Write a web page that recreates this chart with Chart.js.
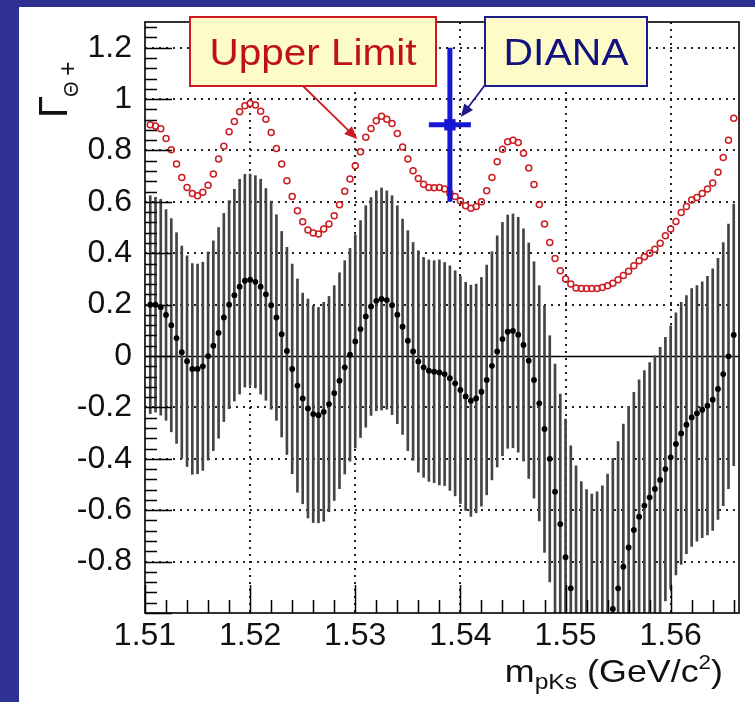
<!DOCTYPE html>
<html>
<head>
<meta charset="utf-8">
<script src="https://cdn.jsdelivr.net/npm/chart.js@4.4.1/dist/chart.umd.min.js"></script>
<style>
html, body { margin: 0; padding: 0; width: 755px; height: 702px; overflow: hidden; background: #2f3192; }
#wrap { position: absolute; left: 19px; top: 7px; width: 736px; height: 695px; background: #fff; }
</style>
</head>
<body>
<div id="wrap"><canvas id="c" width="736" height="695"></canvas></div>
<script>
// Γ(Θ+) scan vs m(pKs): central values, errors, upper limit, DIANA point

const mass = [
    1.5105, 1.5110, 1.5115, 1.5120, 1.5125, 1.5130, 1.5135, 1.5140, 1.5145, 1.5150,
    1.5155, 1.5160, 1.5165, 1.5170, 1.5175, 1.5180, 1.5185, 1.5190, 1.5195, 1.5200,
    1.5205, 1.5210, 1.5215, 1.5220, 1.5225, 1.5230, 1.5235, 1.5240, 1.5245, 1.5250,
    1.5255, 1.5260, 1.5265, 1.5270, 1.5275, 1.5280, 1.5285, 1.5290, 1.5295, 1.5300,
    1.5305, 1.5310, 1.5315, 1.5320, 1.5325, 1.5330, 1.5335, 1.5340, 1.5345, 1.5350,
    1.5355, 1.5360, 1.5365, 1.5370, 1.5375, 1.5380, 1.5385, 1.5390, 1.5395, 1.5400,
    1.5405, 1.5410, 1.5415, 1.5420, 1.5425, 1.5430, 1.5435, 1.5440, 1.5445, 1.5450,
    1.5455, 1.5460, 1.5465, 1.5470, 1.5475, 1.5480, 1.5485, 1.5490, 1.5495, 1.5500,
    1.5505, 1.5510, 1.5515, 1.5520, 1.5525, 1.5530, 1.5535, 1.5540, 1.5545, 1.5550,
    1.5555, 1.5560, 1.5565, 1.5570, 1.5575, 1.5580, 1.5585, 1.5590, 1.5595, 1.5600,
    1.5605, 1.5610, 1.5615, 1.5620, 1.5625, 1.5630, 1.5635, 1.5640, 1.5645, 1.5650,
    1.5655, 1.5660
];

const width = [
    0.20, 0.20, 0.19, 0.16, 0.12, 0.07, 0.015, -0.02, -0.05, -0.05,
    -0.04, 0.0, 0.04, 0.09, 0.15, 0.20, 0.237, 0.27, 0.293, 0.297,
    0.289, 0.27, 0.24, 0.198, 0.15, 0.085, 0.02, -0.05, -0.115, -0.165,
    -0.204, -0.226, -0.23, -0.217, -0.187, -0.144, -0.096, -0.044, 0.005, 0.057,
    0.105, 0.154, 0.193, 0.215, 0.222, 0.218, 0.198, 0.161, 0.114, 0.06,
    0.018, -0.021, -0.044, -0.057, -0.061, -0.064, -0.07, -0.086, -0.106, -0.132,
    -0.157, -0.174, -0.165, -0.139, -0.093, -0.038, 0.018, 0.066, 0.095, 0.098,
    0.083, 0.043, -0.018, -0.093, -0.184, -0.284, -0.40, -0.528, -0.654, -0.783,
    -0.904, -1.03, -1.10, -1.15, -1.17, -1.15, -1.11, -1.05, -0.984, -0.904,
    -0.82, -0.745, -0.677, -0.625, -0.582, -0.55, -0.517, -0.482, -0.44, -0.394,
    -0.342, -0.301, -0.267, -0.239, -0.223, -0.209, -0.193, -0.17, -0.128, -0.07,
    -0.001, 0.082
];

const widthErr = [
    0.424, 0.418, 0.42, 0.41, 0.415, 0.41, 0.413, 0.41, 0.41, 0.408,
    0.405, 0.405, 0.408, 0.41, 0.405, 0.405, 0.412, 0.418, 0.414, 0.411,
    0.413, 0.418, 0.412, 0.405, 0.40, 0.40, 0.403, 0.408, 0.415, 0.41,
    0.426, 0.422, 0.419, 0.426, 0.419, 0.418, 0.42, 0.415, 0.414, 0.415,
    0.422, 0.431, 0.424, 0.428, 0.432, 0.425, 0.426, 0.424, 0.419, 0.428,
    0.424, 0.431, 0.428, 0.431, 0.432, 0.438, 0.434, 0.437, 0.438, 0.442,
    0.444, 0.45, 0.445, 0.445, 0.447, 0.444, 0.45, 0.454, 0.454, 0.455,
    0.457, 0.452, 0.458, 0.46, 0.458, 0.48, 0.479, 0.497, 0.506, 0.538,
    0.555, 0.603, 0.611, 0.63, 0.633, 0.622, 0.605, 0.591, 0.586, 0.571,
    0.555, 0.549, 0.536, 0.532, 0.525, 0.525, 0.518, 0.516, 0.513, 0.512,
    0.51, 0.51, 0.502, 0.502, 0.497, 0.498, 0.503, 0.509, 0.508, 0.512,
    0.515, 0.509
];

const upperLimit = [
    0.90, 0.895, 0.885, 0.847, 0.803, 0.747, 0.695, 0.656, 0.633, 0.624,
    0.637, 0.665, 0.708, 0.767, 0.816, 0.873, 0.913, 0.951, 0.974, 0.983,
    0.977, 0.953, 0.922, 0.87, 0.808, 0.747, 0.682, 0.621, 0.565, 0.523,
    0.491, 0.479, 0.475, 0.494, 0.514, 0.546, 0.589, 0.641, 0.689, 0.741,
    0.795, 0.851, 0.886, 0.916, 0.933, 0.922, 0.905, 0.866, 0.814, 0.767,
    0.721, 0.691, 0.669, 0.656, 0.655, 0.656, 0.65, 0.634, 0.621, 0.604,
    0.585, 0.575, 0.582, 0.60, 0.643, 0.695, 0.756, 0.805, 0.834, 0.84,
    0.831, 0.789, 0.732, 0.668, 0.59, 0.514, 0.442, 0.38, 0.332, 0.30,
    0.28, 0.265, 0.263, 0.263, 0.263, 0.263, 0.267, 0.274, 0.283, 0.297,
    0.313, 0.33, 0.351, 0.371, 0.386, 0.40, 0.416, 0.439, 0.468, 0.494,
    0.524, 0.559, 0.582, 0.607, 0.617, 0.633, 0.65, 0.673, 0.715, 0.773,
    0.84, 0.925
];

const dianaMass = [1.539];
const dianaMassErr = [0.002];
const dianaWidth = [0.9];
const dianaWidthErr = [0.3];

const xTicks = [1.51, 1.52, 1.53, 1.54, 1.55, 1.56];
const xTickLabels = ['1.51', '1.52', '1.53', '1.54', '1.55', '1.56'];
const yTicks = [-0.8, -0.6, -0.4, -0.2, 0, 0.2, 0.4, 0.6, 0.8, 1, 1.2];
const yTickLabels = ['-0.8', '-0.6', '-0.4', '-0.2', '0', '0.2', '0.4', '0.6', '0.8', '1', '1.2'];

const FONT = "'Liberation Sans', Arial, Helvetica, sans-serif";
const RED = '#cc1c22';
const BLUE = '#1616d4';
const NAVY = '#1c1c88';
const STRETCH = 1.12;

const errBars = mass.map((m, i) => ({ x: m, y: [width[i] - widthErr[i], width[i] + widthErr[i]] }));
const centers = mass.map((m, i) => ({ x: m, y: width[i] }));
const limits = mass.map((m, i) => ({ x: m, y: upperLimit[i] }));

// text drawn with a slight horizontal stretch, like the source picture
function stretchedText(ctx, text, x, y, size, sx) {
    ctx.save();
    ctx.font = size + 'px ' + FONT;
    ctx.translate(x, y);
    ctx.scale(sx, 1);
    ctx.textAlign = 'left';
    ctx.textBaseline = 'alphabetic';
    ctx.fillText(text, 0, 0);
    const w = ctx.measureText(text).width * sx;
    ctx.restore();
    return w;
}

function textWidth(ctx, text, size, sx) {
    ctx.save();
    ctx.font = size + 'px ' + FONT;
    const w = ctx.measureText(text).width * sx;
    ctx.restore();
    return w;
}

function labelBox(ctx, x0, y0, x1, y1, stroke, color, text, targetW) {
    ctx.save();
    ctx.fillStyle = '#fdfcc9';
    ctx.fillRect(x0, y0, x1 - x0, y1 - y0);
    ctx.lineWidth = 2;
    ctx.strokeStyle = stroke;
    ctx.strokeRect(x0, y0, x1 - x0, y1 - y0);
    ctx.fillStyle = color;
    const sx = targetW / textWidth(ctx, text, 36, 1);
    const w = textWidth(ctx, text, 36, sx);
    stretchedText(ctx, text, (x0 + x1) / 2 - w / 2, y0 + 48, 36, sx);
    ctx.restore();
}

function arrow(ctx, x1, y1, x2, y2, color) {
    const a = Math.atan2(y2 - y1, x2 - x1);
    const L = 13, W = 5.5;
    const c = Math.cos(a), s = Math.sin(a);
    ctx.save();
    ctx.strokeStyle = color;
    ctx.fillStyle = color;
    ctx.lineWidth = 1.8;
    ctx.beginPath();
    ctx.moveTo(x1, y1);
    ctx.lineTo(x2 - L * c * 0.8, y2 - L * s * 0.8);
    ctx.stroke();
    ctx.beginPath();
    ctx.moveTo(x2, y2);
    ctx.lineTo(x2 - L * c + W * s, y2 - L * s - W * c);
    ctx.lineTo(x2 - L * c - W * s, y2 - L * s + W * c);
    ctx.closePath();
    ctx.fill();
    ctx.restore();
}

const decor = {
    id: 'decor',
    beforeDatasetsDraw(chart) {
        const { ctx, chartArea: a, scales: { x, y } } = chart;
        ctx.save();
        // dotted grid
        ctx.lineWidth = 2;
        ctx.strokeStyle = '#222';
        ctx.setLineDash([2, 5]);
        ctx.beginPath();
        xTicks.slice(1).forEach(v => {
            const p = Math.round(x.getPixelForValue(v));
            ctx.moveTo(p, a.top);
            ctx.lineTo(p, a.bottom);
        });
        yTicks.forEach(v => {
            if (v === 0) return;
            const p = Math.round(y.getPixelForValue(v));
            ctx.moveTo(a.left, p);
            ctx.lineTo(a.right, p);
        });
        ctx.stroke();
        ctx.setLineDash([]);
        // zero line
        ctx.lineWidth = 1.5;
        ctx.strokeStyle = '#000';
        const z = Math.round(y.getPixelForValue(0)) + 0.5;
        ctx.beginPath();
        ctx.moveTo(a.left, z);
        ctx.lineTo(a.right, z);
        ctx.stroke();
        ctx.restore();
    },
    afterDatasetsDraw(chart) {
        const { ctx, chartArea: a, scales: { x, y } } = chart;
        ctx.save();
        // frame
        ctx.lineWidth = 1.6;
        ctx.strokeStyle = '#000';
        ctx.strokeRect(a.left, a.top, a.right - a.left, a.bottom - a.top);
        // inward ticks
        ctx.lineWidth = 1.5;
        ctx.beginPath();
        for (let i = 0; i <= 30; i++) {
            const v = 1.51 + i * 0.002;
            if (v > x.max) break;
            const p = Math.round(x.getPixelForValue(v)) + 0.5;
            const len = i % 5 === 0 ? 28 : 13;
            ctx.moveTo(p, a.bottom);
            ctx.lineTo(p, a.bottom - len);
        }
        for (let i = 0; i <= 60; i++) {
            const v = -1 + i * 0.04;
            if (v > y.max + 1e-9) break;
            const p = Math.round(y.getPixelForValue(v)) + 0.5;
            const len = i % 5 === 0 ? 27 : 12;
            ctx.moveTo(a.left, p);
            ctx.lineTo(a.left + len, p);
        }
        ctx.stroke();
        ctx.restore();

        // annotation boxes and arrows
        labelBox(ctx, 171, 10, 417, 79, RED, '#c01018', 'Upper Limit', 207);
        arrow(ctx, 284, 79, x.getPixelForValue(1.5302), y.getPixelForValue(0.844), RED);
        labelBox(ctx, 466, 10, 628, 79, NAVY, '#111180', 'DIANA', 125);
        arrow(ctx, 466, 78, x.getPixelForValue(1.54004), y.getPixelForValue(0.93), NAVY);

        // y axis title: Γ with Θ+ subscript, rotated
        ctx.save();
        ctx.fillStyle = '#111';
        ctx.translate(48, 111);
        ctx.rotate(-Math.PI / 2);
        ctx.textBaseline = 'alphabetic';
        ctx.font = '40px ' + FONT;
        ctx.fillText('Γ', 0, 0);
        ctx.font = '20px ' + FONT;
        ctx.fillText('Θ', 21, 11);
        ctx.font = '25px ' + FONT;
        ctx.fillText('+', 42, 9);
        ctx.restore();

        // x axis title: m_pKs (GeV/c^2)
        ctx.save();
        ctx.fillStyle = '#111';
        const parts = [
            ['m', 32, 0], ['pKs', 22, 7], [' (GeV/c', 32, 0], ['2', 20, -13], [')', 32, 0]
        ];
        let total = 0;
        parts.forEach(p => { total += textWidth(ctx, p[0], p[1], STRETCH); });
        let cx = 704 - total;
        parts.forEach(p => { cx += stretchedText(ctx, p[0], cx, 675 + p[2], p[1], STRETCH); });
        ctx.restore();
    }
};

new Chart(document.getElementById('c'), {
    type: 'scatter',
    data: {
        datasets: [
            {
                type: 'line',
                label: 'DIANA mass',
                data: [
                    { x: dianaMass[0] - dianaMassErr[0], y: dianaWidth[0] },
                    { x: dianaMass[0] + dianaMassErr[0], y: dianaWidth[0] }
                ],
                borderColor: BLUE,
                borderWidth: 5,
                pointRadius: 0,
                order: 0
            },
            {
                type: 'line',
                label: 'DIANA width',
                data: [
                    { x: dianaMass[0], y: dianaWidth[0] - dianaWidthErr[0] },
                    { x: dianaMass[0], y: dianaWidth[0] + dianaWidthErr[0] }
                ],
                borderColor: BLUE,
                borderWidth: 5,
                pointRadius: 0,
                order: 0
            },
            {
                type: 'scatter',
                label: 'DIANA',
                data: [{ x: dianaMass[0], y: dianaWidth[0] }],
                pointStyle: 'rect',
                pointRadius: 8,
                backgroundColor: BLUE,
                borderWidth: 0,
                order: 0
            },
            {
                type: 'scatter',
                label: 'Upper Limit',
                data: limits,
                pointRadius: 3,
                borderWidth: 1.5,
                borderColor: RED,
                backgroundColor: 'rgba(0,0,0,0)',
                order: 1
            },
            {
                type: 'scatter',
                label: 'Width',
                data: centers,
                pointRadius: 2.9,
                backgroundColor: '#000',
                borderWidth: 0,
                order: 2
            },
            {
                type: 'bar',
                label: 'Error',
                data: errBars,
                backgroundColor: '#444',
                barThickness: 2,
                grouped: false,
                borderWidth: 0,
                order: 3
            }
        ]
    },
    options: {
        responsive: false,
        animation: false,
        events: [],
        layout: { padding: { left: 0, right: 16, top: 15, bottom: 0 } },
        plugins: {
            legend: { display: false },
            tooltip: { enabled: false },
            title: { display: false }
        },
        scales: {
            x: {
                type: 'linear',
                min: 1.51,
                max: 1.5665,
                offset: false,
                grid: { display: false, drawTicks: false },
                border: { display: false },
                afterBuildTicks: s => { s.ticks = xTicks.map(v => ({ value: v })); },
                afterFit: s => { s.height = 89; s.paddingLeft = 0; s.paddingRight = 0; },
                ticks: {
                    padding: 4,
                    color: '#111',
                    autoSkip: false,
                    maxRotation: 0,
                    font: { family: FONT, size: 32 },
                    callback: (v, i) => xTickLabels[i]
                }
            },
            y: {
                type: 'linear',
                min: -1,
                max: 1.3,
                grid: { display: false, drawTicks: false },
                border: { display: false },
                afterBuildTicks: s => { s.ticks = yTicks.map(v => ({ value: v })); },
                afterFit: s => { s.width = 126; s.paddingTop = 0; s.paddingBottom = 0; },
                ticks: {
                    padding: 13,
                    color: '#111',
                    autoSkip: false,
                    font: { family: FONT, size: 32 },
                    callback: (v, i) => yTickLabels[i]
                }
            }
        }
    },
    plugins: [decor]
});
</script>
</body>
</html>
